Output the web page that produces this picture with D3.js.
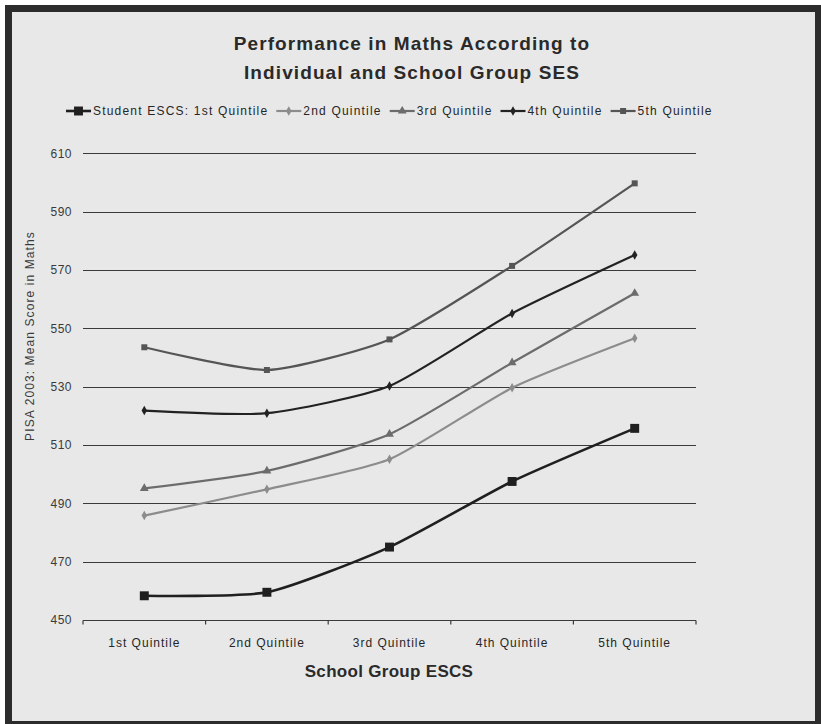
<!DOCTYPE html>
<html>
<head>
<meta charset="utf-8">
<script src="https://cdn.jsdelivr.net/npm/d3@7"></script>
<style>
  html, body { margin: 0; padding: 0; background: #ffffff; }
  svg { display: block; }
  text { font-family: "Liberation Sans", Arial, sans-serif; fill: #262626; }
</style>
</head>
<body>
<svg id="chart" width="821" height="724"></svg>
<script>
// School group quintiles (x axis)
const categories = ["1st Quintile", "2nd Quintile", "3rd Quintile", "4th Quintile", "5th Quintile"];

// Mean PISA 2003 maths score by student ESCS quintile
const studentQ1 = [458.3, 459.5, 475.0, 497.5, 515.7];
const studentQ2 = [485.8, 494.8, 505.1, 529.6, 546.6];
const studentQ3 = [495.1, 501.1, 513.7, 538.2, 562.0];
const studentQ4 = [521.8, 520.9, 530.2, 555.1, 575.1];
const studentQ5 = [543.5, 535.7, 546.2, 571.4, 599.7];

const seriesNames = ["Student ESCS: 1st Quintile", "2nd Quintile", "3rd Quintile", "4th Quintile", "5th Quintile"];
const yTicks = [450, 470, 490, 510, 530, 550, 570, 590, 610];

const titleLines = ["Performance in Maths According to", "Individual and School Group SES"];
const xTitle = "School Group ESCS";
const yTitle = "PISA 2003: Mean Score in Maths";

// Visual style for each series
const styles = [
  { values: studentQ1, color: "#1f1f1f", width: 2.6, symbol: d3.symbolSquare, size: 80 },
  { values: studentQ2, color: "#8c8c8c", width: 2.2, symbol: d3.symbolDiamond, size: 26 },
  { values: studentQ3, color: "#6c6c6c", width: 2.2, symbol: d3.symbolTriangle, size: 34 },
  { values: studentQ4, color: "#222222", width: 2.2, symbol: d3.symbolDiamond, size: 26 },
  { values: studentQ5, color: "#555555", width: 2.2, symbol: d3.symbolSquare, size: 36 }
];

const svg = d3.select("#chart");

// Frame and background
svg.append("rect").attr("x", 5).attr("y", 5).attr("width", 816).attr("height", 719).attr("fill", "#2c2c2c");
svg.append("rect").attr("x", 12).attr("y", 12).attr("width", 803).attr("height", 709).attr("fill", "#e8e8e8");

const x = d3.scaleBand().domain(categories).range([83, 696]);
const y = d3.scaleLinear().domain([450, 610]).range([620, 153.3]);

// Horizontal gridlines
svg.append("g")
  .selectAll("line")
  .data(yTicks.filter(t => t > 450))
  .join("line")
  .attr("x1", 83).attr("x2", 696)
  .attr("y1", d => Math.round(y(d)) + 0.5).attr("y2", d => Math.round(y(d)) + 0.5)
  .attr("stroke", "#3a3a3a").attr("stroke-width", 1.2);

// Y tick labels
svg.append("g")
  .selectAll("text")
  .data(yTicks)
  .join("text")
  .attr("x", 72).attr("y", d => y(d)).attr("dy", "0.36em")
  .attr("text-anchor", "end")
  .style("font-size", "12px").style("letter-spacing", "0.5px").style("fill", "#3a3a3a")
  .text(d => d);

// X axis
const xAxis = d3.axisBottom(x).tickSize(0).tickPadding(0);
const xg = svg.append("g").attr("transform", "translate(0,620.5)").call(xAxis);
xg.select(".domain").remove();
xg.selectAll(".tick").remove();
xg.append("line").attr("x1", 83).attr("x2", 696).attr("y1", 0).attr("y2", 0)
  .attr("stroke", "#3a3a3a").attr("stroke-width", 1.2);
const edges = categories.map(c => x(c)).concat([x(categories[categories.length - 1]) + x.bandwidth()]);
xg.selectAll("line.edge").data(edges).join("line").attr("class", "edge")
  .attr("x1", d => d).attr("x2", d => d).attr("y1", 0).attr("y2", 4)
  .attr("stroke", "#3a3a3a").attr("stroke-width", 1.2);
xg.selectAll("text.cat").data(categories).join("text").attr("class", "cat")
  .attr("x", d => x(d) + x.bandwidth() / 2).attr("y", 26)
  .attr("text-anchor", "middle")
  .style("font-size", "12px").style("letter-spacing", "1px")
  .text(d => d);

// Lines and markers
const line = d3.line()
  .x((d, i) => x(categories[i]) + x.bandwidth() / 2)
  .y(d => y(d))
  .curve(d3.curveCardinal.tension(0.4));

styles.forEach(s => {
  svg.append("path")
    .attr("d", line(s.values))
    .attr("fill", "none")
    .attr("stroke", s.color)
    .attr("stroke-width", s.width);
  svg.append("g").selectAll("path")
    .data(s.values)
    .join("path")
    .attr("transform", (d, i) => `translate(${x(categories[i]) + x.bandwidth() / 2},${y(d)})`)
    .attr("d", d3.symbol().type(s.symbol).size(s.size))
    .attr("fill", s.color);
});

// Title
svg.append("g").selectAll("text")
  .data(titleLines)
  .join("text")
  .attr("x", 412).attr("y", (d, i) => 50 + i * 29)
  .attr("text-anchor", "middle")
  .style("font-size", "19px").style("font-weight", "bold").style("letter-spacing", "1.1px")
  .style("fill", "#2a2a2a")
  .text(d => d);

// Axis titles
svg.append("text")
  .attr("x", 389).attr("y", 677)
  .attr("text-anchor", "middle")
  .style("font-size", "17px").style("font-weight", "bold").style("letter-spacing", "0.3px")
  .style("fill", "#2a2a2a")
  .text(xTitle);

svg.append("text")
  .attr("transform", "translate(34,336) rotate(-90)")
  .attr("text-anchor", "middle")
  .style("font-size", "12px").style("letter-spacing", "1.1px").style("fill", "#3a3a3a")
  .text(yTitle);

// Legend
const legend = svg.append("g").attr("transform", "translate(0,111)");
let lx = 66;
styles.forEach((s, i) => {
  const g = legend.append("g").attr("transform", `translate(${lx},0)`);
  g.append("line").attr("x1", 0).attr("x2", 25).attr("y1", 0).attr("y2", 0)
    .attr("stroke", s.color).attr("stroke-width", s.width);
  g.append("path").attr("transform", "translate(12.5,0)")
    .attr("d", d3.symbol().type(s.symbol).size(s.size)).attr("fill", s.color);
  const t = g.append("text").attr("x", 27).attr("y", 0).attr("dy", "0.36em")
    .style("font-size", "12px").style("letter-spacing", "1.2px")
    .text(seriesNames[i]);
  lx += 27 + t.node().getComputedTextLength() + 8;
});
</script>
</body>
</html>
